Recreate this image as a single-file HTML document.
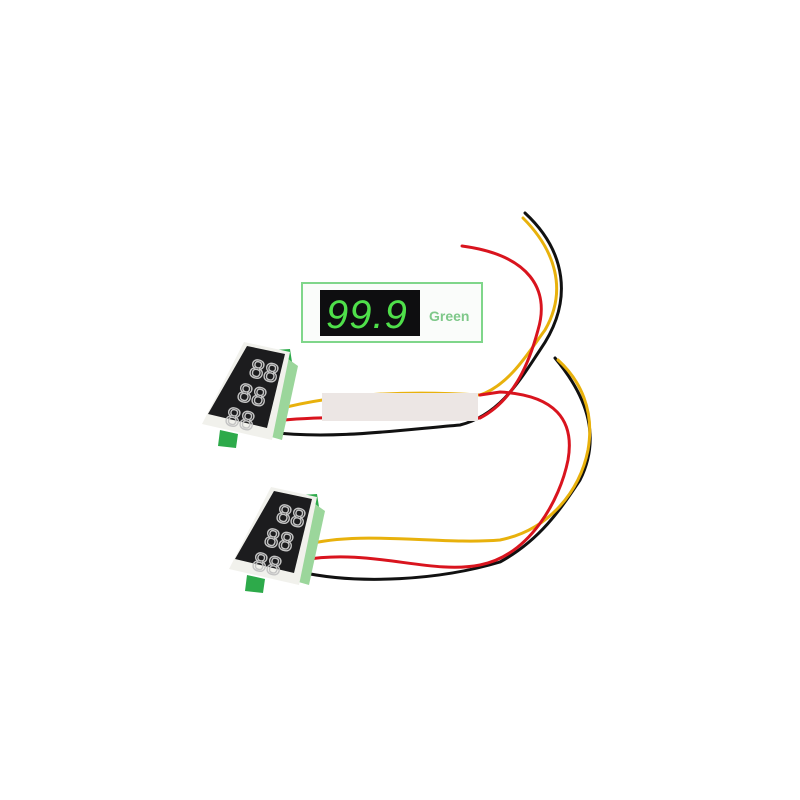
<!DOCTYPE html>
<html><head><meta charset="utf-8"><style>
html,body{margin:0;padding:0;background:#fff;width:800px;height:800px;overflow:hidden}
</style></head><body>
<svg width="800" height="800" viewBox="0 0 800 800" xmlns="http://www.w3.org/2000/svg">
<rect width="800" height="800" fill="#fff"/>
<defs>
<g id="mod">
  <polygon points="274,350 290,349 292,362 280,362" fill="#2daa4a"/>
  <polygon points="220,430 238,434 236,448 218,446" fill="#2daa4a"/>
  <polygon points="284,356 298,366 282,440 268,436" fill="#9bd69b"/>
  <polygon points="244,342 290,352 272,440 202,424" fill="#f1f1ec"/>
  <polygon points="247,346 285,354 267,428 208,414" fill="#1c1c1e"/>
  <g font-family="Liberation Sans, sans-serif" font-size="26" fill="none" stroke="#c4c4c4" stroke-width="1.4">
    <text x="0" y="0" transform="translate(248,376) rotate(14)">88</text>
    <text x="0" y="0" transform="translate(236,400) rotate(14)">88</text>
    <text x="0" y="0" transform="translate(224,424) rotate(14)">88</text>
  </g>
</g>
</defs>

<g fill="none" stroke-linecap="round" stroke-width="3">
  <path d="M270,432 C330,440 400,430 460,425 C500,415 520,380 540,350 C575,300 565,250 525,213" stroke="#111"/>
  <path d="M275,410 C330,395 400,390 480,395 C510,385 530,350 545,330 C568,290 555,250 523,218" stroke="#e8b10c"/>
  <path d="M274,421 C330,415 400,418 480,418 C515,400 530,360 538,330 C550,290 530,255 462,246" stroke="#d9141e"/>
</g>
<g fill="none" stroke-linecap="round" stroke-width="3">
  <path d="M300,572 C360,585 440,580 500,562 C540,540 560,510 580,480 C600,440 590,400 555,358" stroke="#111"/>
  <path d="M305,545 C360,530 440,545 500,540 C550,530 580,490 588,450 C595,410 580,380 558,360" stroke="#e8b10c"/>
  <path d="M303,560 C370,548 430,575 480,565 C530,555 560,500 568,460 C575,420 555,395 500,392 L480,395" stroke="#d9141e"/>
</g>

<use href="#mod"/>
<use href="#mod" transform="translate(27,145)"/>

<rect x="322" y="393" width="156" height="28" fill="#ece6e4"/>

<rect x="302" y="283" width="180" height="59" fill="#fafcfa" stroke="#7fd68a" stroke-width="2"/>
<rect x="320" y="290" width="100" height="46" fill="#0e0e10"/>
<text x="326" y="328" font-family="Liberation Sans, sans-serif" font-size="40" fill="#4fe04a" font-style="italic" letter-spacing="1">99.9</text>
<text x="429" y="321" font-family="Liberation Sans, sans-serif" font-size="14" font-weight="bold" fill="#7ec889">Green</text>
</svg>
</body></html>
